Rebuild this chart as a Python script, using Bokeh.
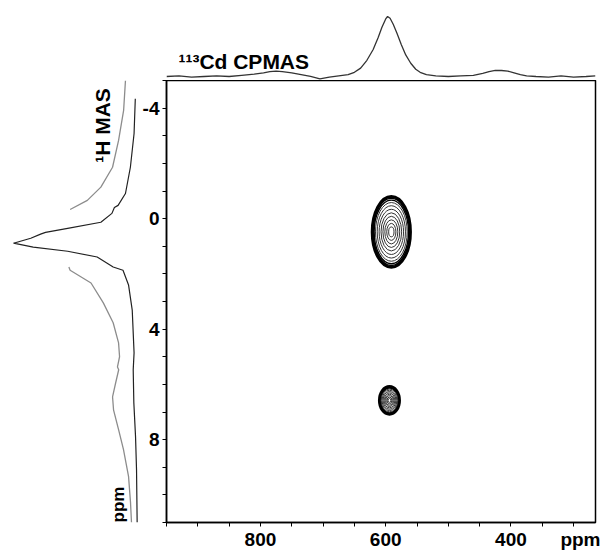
import numpy as np
from bokeh.plotting import figure
from bokeh.layouts import column, row
from bokeh.models import Range1d, FixedTicker
from bokeh.core.properties import value
from bokeh.embed import file_html
from bokeh.resources import INLINE

# ---- 113Cd CPMAS projection (ppm, relative intensity) ----
cd_ppm = [950, 930, 910, 890, 870, 850, 830, 810, 795, 785, 775, 765, 750, 735, 720, 705,
          690, 675, 660, 650, 640, 630, 620, 612, 606, 600, 597, 593, 588, 582, 575, 568,
          560, 552, 545, 535, 520, 500, 480, 460, 445, 435, 425, 415, 405, 395, 385, 375,
          360, 340, 320, 300, 280, 265]
cd_int = [0.00, 0.01, -0.01, 0.00, 0.01, 0.00, 0.02, 0.04, 0.06, 0.08, 0.09, 0.08, 0.06, 0.03, 0.00, -0.04,
          -0.01, 0.01, 0.03, 0.07, 0.14, 0.27, 0.45, 0.65, 0.82, 0.96, 1.00, 0.97, 0.87, 0.72, 0.53, 0.36,
          0.22, 0.12, 0.07, 0.03, 0.01, 0.00, 0.01, 0.02, 0.05, 0.08, 0.10, 0.10, 0.09, 0.06, 0.03, 0.01,
          0.00, -0.01, 0.01, -0.01, 0.00, 0.01]

# ---- 1H MAS projection (ppm, relative intensity) ----
h_ppm_black = [-4.34, -3.08, -1.86, -0.91, -0.48, -0.40, -0.19, 0.13, 0.35, 0.50, 0.56, 0.71, 0.89,
               1.03, 1.18, 1.39, 1.75, 1.87, 2.40, 3.31, 4.86, 5.47, 6.66, 7.90, 9.10, 11.0]
h_int_black = [0.01, 0.02, 0.05, 0.09, 0.15, 0.18, 0.20, 0.29, 0.56, 0.74, 0.78, 0.86, 1.00,
               0.84, 0.56, 0.32, 0.19, 0.11, 0.065, 0.035, 0.02, 0.027, 0.022, 0.008, 0.0, -0.005]
h_ppm_gray_top = [-5.0, -3.92, -2.83, -1.86, -1.14, -0.66, -0.33]
h_int_gray_top = [0.09, 0.105, 0.146, 0.195, 0.29, 0.40, 0.54]
h_ppm_gray_bottom = [1.75, 1.87, 2.33, 3.05, 3.77, 4.50, 5.00, 5.37, 5.47, 5.95, 6.45, 6.92,
                     7.64, 8.36, 9.33, 10.27, 11.0]
h_int_gray_bottom = [0.55, 0.54, 0.37, 0.27, 0.19, 0.146, 0.138, 0.155, 0.145, 0.17, 0.195, 0.187,
                     0.146, 0.106, 0.065, 0.049, 0.041]

# ---- 2D cross peaks (Cd ppm, H ppm, widths in ppm) ----
peak_cd = [591, 594]
peak_h = [0.48, 6.58]
peak_w_cd = [61, 32]
peak_w_h = [2.56, 1.0]
contour_levels = [1.0, 0.95, 0.9, 0.83, 0.74, 0.64, 0.54, 0.44, 0.34, 0.24, 0.14]

# ---- ticks ----
x_label_values = [800, 600, 400, 286]
x_label_texts = ["800", "600", "400", "ppm"]
x_tick_marks = list(range(300, 951, 50))
y_label_values = [-4, 0, 4, 8]
y_label_texts = ["-4", "0", "4", "8"]
y_tick_marks = list(range(-5, 12))

FONT = "Liberation Sans"

x_range = Range1d(950, 265)
y_range = Range1d(11, -5)

# ---------------- main 2D plot ----------------
p = figure(width=462, height=472, x_range=x_range, y_range=y_range,
           output_backend="svg", toolbar_location=None,
           min_border_left=28, min_border_right=5, min_border_top=0, min_border_bottom=29)
p.grid.visible = False
p.outline_line_color = "black"
p.outline_line_width = 1.5
p.background_fill_color = "white"
p.border_fill_color = "white"

for ax in (p.xaxis[0], p.yaxis[0]):
    ax.axis_line_color = "black"
    ax.axis_line_width = 1.5
    ax.major_tick_in = 0
    ax.major_tick_out = 0
    ax.major_tick_line_color = None
    ax.minor_tick_in = 0
    ax.minor_tick_out = 4
    ax.minor_tick_line_color = "black"
    ax.minor_tick_line_width = 1
    ax.major_label_text_font = FONT
    ax.major_label_text_font_style = "bold"
    ax.major_label_text_font_size = "19px"
    ax.major_label_text_color = "black"

p.xaxis.ticker = FixedTicker(ticks=x_label_values, minor_ticks=x_tick_marks)
p.xaxis.major_label_overrides = dict(zip(x_label_values, x_label_texts))
p.xaxis.major_label_standoff = 2
p.yaxis.ticker = FixedTicker(ticks=y_label_values, minor_ticks=y_tick_marks)
p.yaxis.major_label_overrides = dict(zip(y_label_values, y_label_texts))
p.yaxis.major_label_standoff = 3

for cx, cy, wx, wy in zip(peak_cd, peak_h, peak_w_cd, peak_w_h):
    for i, lv in enumerate(contour_levels):
        lw = 3.0 if i == 0 else (1.4 if i < 3 else 1.0)
        col = "black" if i < 3 else "#333333"
        p.ellipse(x=cx, y=cy, width=wx * lv, height=wy * lv,
                  fill_color=None, line_color=col, line_width=lw)

# ---------------- top projection ----------------
top = figure(width=600, height=80, x_range=x_range, y_range=Range1d(-0.067, 1.267),
             output_backend="svg", toolbar_location=None,
             x_axis_location=None, y_axis_location=None,
             min_border_left=166, min_border_right=5, min_border_top=0, min_border_bottom=0)
top.grid.visible = False
top.outline_line_color = None
top.line(cd_ppm, cd_int, line_color="#333333", line_width=1.3)
top.text(x=[931], y=[0.25], text=["¹¹³Cd CPMAS"], text_font=value(FONT),
         text_font_style="bold", text_font_size="21px", text_align="left",
         text_baseline="middle", text_color="black")

# ---------------- left projection ----------------
left = figure(width=138, height=472, x_range=Range1d(1.106, -0.016), y_range=y_range,
              output_backend="svg", toolbar_location=None,
              x_axis_location=None, y_axis_location=None,
              min_border_left=0, min_border_right=0, min_border_top=0, min_border_bottom=29)
left.grid.visible = False
left.outline_line_color = None
left.line(h_int_black, h_ppm_black, line_color="#222222", line_width=1.2)
left.line(h_int_gray_top, h_ppm_gray_top, line_color="#8c8c8c", line_width=1.3)
left.line(h_int_gray_bottom, h_ppm_gray_bottom, line_color="#8c8c8c", line_width=1.3)
left.text(x=[0.276], y=[-3.37], text=["¹H MAS"], angle=np.pi / 2,
          text_font=value(FONT), text_font_style="bold", text_font_size="21px",
          text_align="center", text_baseline="middle", text_color="black")
left.text(x=[0.146], y=[10.35], text=["ppm"], angle=np.pi / 2,
          text_font=value(FONT), text_font_style="bold", text_font_size="17px",
          text_align="center", text_baseline="middle", text_color="black")

layout = column(top, row(left, p, spacing=0), spacing=0)

open("out.html", "w").write(file_html(layout, INLINE))
